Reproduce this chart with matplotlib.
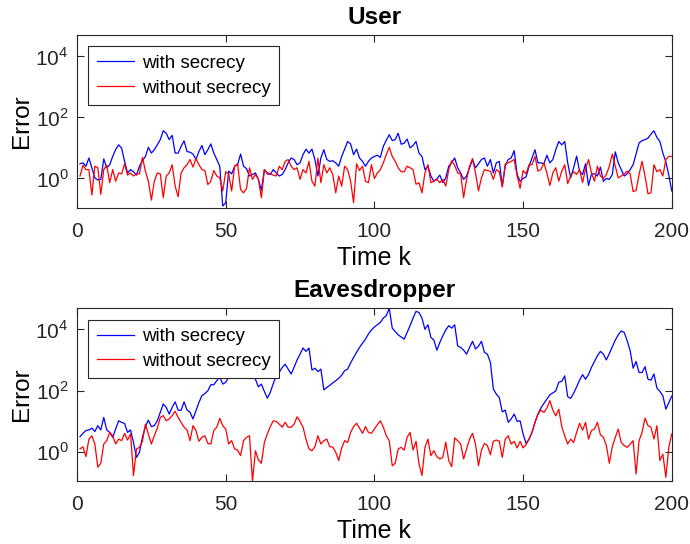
import numpy as np
import matplotlib
matplotlib.use('Agg')
import matplotlib.pyplot as plt

plt.rcParams['font.family'] = ['Liberation Sans', 'DejaVu Sans']
plt.rcParams['mathtext.fontset'] = 'custom'
plt.rcParams['mathtext.rm'] = 'Liberation Sans'

# time steps
k = np.arange(1, 201)

# log10 of the error
user_with_log = [
    0.48, 0.51, 0.40, 0.67, 0.35, 0.02, -0.05, -0.03, 0.64, 0.35,
    0.45, 0.72, 0.95, 1.10, 0.99, 0.56, 0.18, 0.29, 0.22, 0.11,
    0.40, 0.58, 0.72, 1.02, 0.83, 0.94, 1.10, 1.27, 1.56, 1.48,
    1.27, 1.41, 0.83, 0.83, 1.05, 1.23, 0.88, 0.86, 0.80, 0.62,
    0.88, 1.08, 0.78, 0.94, 1.13, 0.83, 0.62, 0.40, -0.90, -0.80,
    0.24, 0.15, 0.40, 0.45, 0.80, 0.40, 0.32, 0.08, 0.13, 0.18,
    -0.03, -0.39, 0.29, 0.15, 0.13, 0.29, 0.18, 0.08, 0.13, 0.29,
    0.51, 0.67, 0.62, 0.45, 0.51, 0.78, 0.96, 0.83, 0.96, 0.62,
    0.08, 0.67, 0.94, 0.62, 0.56, 0.58, 0.51, 0.40, 0.72, 0.96,
    1.21, 1.13, 0.78, 0.96, 0.67, 0.56, 0.40, 0.56, 0.67, 0.72,
    0.76, 0.69, 1.05, 1.25, 1.43, 1.24, 1.27, 1.48, 1.12, 1.15,
    1.29, 1.00, 1.08, 1.21, 0.83, 0.72, 0.29, 0.40, 0.08, -0.09,
    -0.01, 0.11, -0.14, 0.02, 0.40, 0.52, 0.67, 0.35, 0.18, -0.03,
    0.08, 0.35, 0.62, 0.35, 0.48, 0.62, 0.67, 0.40, 0.62, 0.18,
    0.51, 0.56, -0.25, 0.40, 0.62, 0.67, 0.91, 0.13, -0.09, 0.00,
    0.05, 0.40, 0.67, 0.94, 0.51, 0.51, 0.48, 0.76, 0.51, 0.62,
    0.94, 1.21, 1.10, 1.21, 0.51, 0.02, 0.35, 0.73, 0.24, 0.13,
    0.48, -0.23, 0.15, 0.15, 0.08, 0.37, -0.09, 0.00, -0.03, 0.13,
    0.87, 0.51, 0.29, 0.08, 0.15, 0.29, 0.45, 0.80, 1.16, 1.24,
    1.27, 1.32, 1.45, 1.56, 1.34, 1.21, 0.83, 0.55, 0.10, -0.41,
]
user_without_log = [
    0.08, 0.43, 0.29, 0.29, -0.54, 0.40, 0.35, -0.52, 0.29, 0.43,
    -0.14, 0.29, -0.09, 0.18, 0.15, 0.48, 0.11, 0.18, 0.08, 0.15,
    0.15, 0.69, 0.24, -0.09, -0.71, -0.09, 0.18, 0.15, -0.63, 0.08,
    0.18, 0.45, -0.25, -0.60, 0.18, 0.35, 0.45, 0.62, 0.37, 0.65,
    0.45, 0.29, 0.26, -0.20, -0.09, 0.26, 0.08, 0.02, -0.41, 0.22,
    0.15, -0.41, 0.40, 0.48, -0.36, -0.47, -0.33, 0.35, -0.03, 0.13,
    -0.03, -0.63, 0.29, 0.18, 0.15, 0.11, 0.08, 0.40, 0.29, 0.56,
    0.62, 0.40, 0.29, 0.35, -0.03, 0.29, 0.18, 0.56, -0.09, -0.25,
    0.67, -0.14, 0.45, 0.18, 0.35, 0.13, -0.47, 0.08, -0.25, 0.40,
    0.29, -0.09, -0.79, 0.48, 0.26, 0.40, -0.09, -0.14, 0.45, 0.00,
    0.18, 0.29, 0.51, 0.78, 1.02, 0.72, 0.56, 0.35, 0.22, 0.22,
    0.40, 0.35, 0.29, -0.19, -0.14, -0.47, 0.18, 0.45, -0.14, -0.09,
    -0.03, -0.14, -0.03, -0.25, 0.29, 0.58, 0.43, 0.18, 0.15, -0.63,
    -0.03, 0.40, 0.65, 0.18, -0.41, 0.02, 0.29, 0.26, 0.24, -0.03,
    0.29, 0.22, -0.28, 0.48, 0.51, 0.56, 0.62, 0.08, -0.32, 0.26,
    0.15, 0.45, 0.45, 0.72, 0.24, 0.29, 0.51, 0.18, -0.23, 0.18,
    0.35, -0.09, 0.24, 0.45, -0.17, 0.08, 0.22, 0.13, 0.29, -0.14,
    0.32, 0.62, 0.18, -0.09, 0.40, 0.08, 0.00, 0.13, 0.40, 0.80,
    0.40, 0.02, 0.08, 0.15, 0.24, 0.15, -0.43, -0.39, 0.13, 0.56,
    0.08, -0.50, -0.47, 0.45, 0.22, 0.29, 0.08, 0.62, 0.72, 0.72,
]
eve_with_log = [
    0.49, 0.60, 0.69, 0.71, 0.77, 0.66, 0.85, 0.71, 1.12, 0.71,
    0.63, 0.47, 0.74, 1.01, 0.96, 0.92, 0.63, 0.71, 0.30, -0.19,
    -0.02, 0.47, 0.82, 1.03, 0.82, 0.85, 1.01, 1.29, 1.56, 1.45,
    1.23, 1.45, 1.63, 1.36, 1.35, 1.63, 1.36, 1.29, 1.07, 1.34,
    1.61, 1.83, 1.90, 1.99, 2.19, 2.19, 2.32, 2.45, 2.21, 2.27,
    2.43, 2.70, 2.90, 3.10, 2.90, 3.00, 2.80, 2.60, 2.45, 2.37,
    2.12, 2.21, 1.97, 1.75, 1.94, 2.23, 2.48, 2.60, 2.75, 2.86,
    2.70, 2.54, 2.76, 3.00, 3.19, 3.39, 3.28, 3.39, 2.67, 2.73,
    2.62, 2.70, 2.02, 2.10, 2.17, 2.25, 2.32, 2.40, 2.50, 2.65,
    2.70, 2.90, 3.08, 3.25, 3.41, 3.55, 3.68, 3.85, 3.98, 4.08,
    4.15, 4.23, 4.37, 4.45, 4.69, 4.04, 3.93, 3.82, 3.75, 3.68,
    3.90, 4.12, 4.37, 4.59, 4.55, 4.37, 4.00, 4.15, 3.74, 3.65,
    3.32, 3.57, 3.79, 3.98, 4.12, 4.04, 4.15, 3.46, 3.41, 3.32,
    3.19, 3.41, 3.61, 3.36, 3.45, 3.61, 3.25, 3.19, 2.92, 2.05,
    1.88, 1.77, 1.30, 1.36, 0.96, 1.07, 1.23, 0.99, 1.01, 0.58,
    0.27, 0.41, 0.63, 0.96, 1.23, 1.43, 1.58, 1.72, 1.86, 1.92,
    1.99, 2.27, 2.30, 2.48, 1.80, 1.74, 1.91, 2.12, 2.34, 2.52,
    2.37, 2.52, 2.76, 2.95, 3.14, 3.28, 3.19, 3.00, 3.21, 3.43,
    3.65, 3.82, 3.95, 3.90, 3.63, 3.30, 2.73, 2.95, 2.59, 2.59,
    2.78, 2.37, 2.34, 2.54, 2.08, 1.97, 1.83, 1.39, 1.60, 1.82,
]
eve_without_log = [
    0.09, 0.16, -0.16, 0.41, 0.52, 0.25, -0.51, -0.38, 0.25, 0.36,
    0.63, 0.52, 0.25, 0.41, 0.36, 0.60, 0.38, 0.58, -0.78, 0.09,
    0.14, 0.34, 0.90, 0.58, 0.25, 0.52, 0.77, 1.12, 1.18, 1.01,
    1.07, 1.18, 1.32, 1.12, 0.96, 0.80, 0.71, 0.36, 0.85, 0.69,
    0.34, 0.47, 0.52, 0.27, 0.25, 0.69, 0.80, 1.09, 0.85, 0.74,
    0.25, 0.36, 0.09, 0.05, -0.13, 0.36, 0.47, 0.52, -0.96, 0.03,
    -0.27, -0.38, 0.30, 0.58, 0.82, 1.01, 0.99, 0.90, 0.80, 0.96,
    0.80, 0.80, 0.90, 1.14, 0.99, 0.80, 0.41, 0.09, 0.03, 0.16,
    0.52, 0.25, 0.36, 0.41, 0.16, 0.15, -0.02, -0.29, 0.12, 0.36,
    0.30, 0.63, 0.82, 0.93, 0.77, 0.60, 0.82, 0.63, 0.60, 0.74,
    0.88, 1.01, 0.80, 0.52, 0.36, -0.46, -0.38, 0.09, 0.14, 0.05,
    0.47, 0.63, 0.05, 0.34, -0.40, -0.78, 0.14, 0.41, -0.13, 0.03,
    -0.16, -0.24, -0.19, 0.31, -0.29, -0.49, 0.45, 0.36, 0.25, -0.24,
    0.09, 0.41, 0.60, 0.25, -0.46, 0.05, 0.27, 0.20, -0.10, 0.34,
    0.38, 0.34, -0.19, 0.41, 0.52, 0.25, 0.34, 0.12, 0.34, 0.12,
    0.23, 0.41, 0.63, 0.96, 1.23, 1.36, 1.28, 1.43, 1.67, 1.36,
    1.17, 1.39, 0.82, 0.52, 0.25, 0.41, 0.30, 0.63, 0.93, 0.70,
    0.96, 0.41, 0.69, 0.74, 0.96, 0.55, 0.47, 0.20, -0.38, 0.16,
    0.47, 0.74, 0.30, 0.20, 0.14, 0.25, 0.36, -0.73, 0.36, 0.63,
    1.10, 0.85, 0.80, 0.41, 0.85, -0.29, -0.08, -0.84, 0.14, 0.58,
]

titles = ['User', 'Eavesdropper']
labels = ['with secrecy', 'without secrecy']

series = [
    (10.0 ** np.array(user_with_log), 10.0 ** np.array(user_without_log)),
    (10.0 ** np.array(eve_with_log), 10.0 ** np.array(eve_without_log)),
]
ymin = min(s.min() for s in series[1])
ymax = max(s.max() for s in series[1])

fig = plt.figure(figsize=(6.9, 5.44), dpi=100)
boxes = [[0.1116, 0.618, 0.862, 0.3175], [0.1116, 0.1158, 0.862, 0.3175]]
edge = '#262626'

for box, title, (yw, yo) in zip(boxes, titles, series):
    ax = fig.add_axes(box)
    ax.plot(k, yw, color='#0000ff', lw=0.9, label=labels[0])
    ax.plot(k, yo, color='#ff0000', lw=0.9, label=labels[1])
    ax.set_yscale('log')
    ax.set_xlim(0, 200)
    ax.set_ylim(ymin, ymax)
    ax.set_xticks([0, 50, 100, 150, 200])
    ax.set_yticks([1, 1e2, 1e4])
    ax.set_yticklabels(['$10^0$', '$10^2$', '$10^4$'])
    ax.yaxis.set_minor_locator(matplotlib.ticker.NullLocator())
    ax.tick_params(direction='in', length=5, width=0.8, top=True, right=True,
                   labelsize=15, colors=edge)
    ax.tick_params(axis='x', pad=10)
    ax.tick_params(axis='y', pad=6)
    for sp in ax.spines.values():
        sp.set_color(edge)
        sp.set_linewidth(0.8)
    ax.set_title(title, fontsize=17.5, fontweight='bold', pad=8)
    ax.set_xlabel('Time k', fontsize=18, labelpad=4)
    ax.set_ylabel('Error', fontsize=17.5, labelpad=2)
    leg = ax.legend(loc='upper left', fontsize=13.5, fancybox=False,
                    edgecolor=edge, framealpha=1, borderpad=0.45,
                    handlelength=2.0, handletextpad=0.4, labelspacing=0.4,
                    borderaxespad=0.6)
    leg.get_frame().set_linewidth(0.8)

fig.savefig('out.png', dpi=100)
